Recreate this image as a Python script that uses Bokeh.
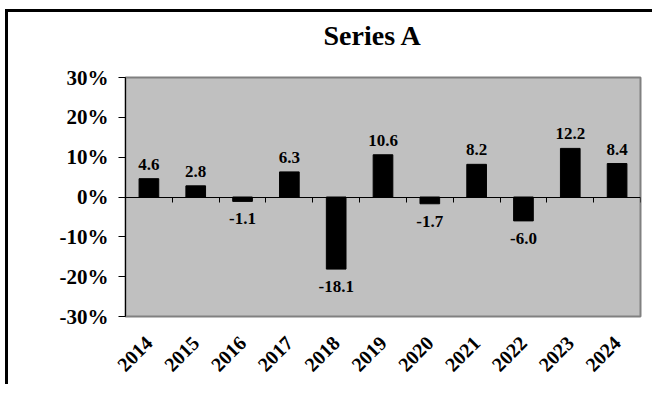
import math
from bokeh.plotting import figure
from bokeh.models import (Range1d, LinearAxis, FixedTicker, PrintfTickFormatter,
                          ColumnDataSource, LabelSet, Title)
from bokeh.embed import file_html
from bokeh.resources import INLINE

# ---- data ----
years = ["2014", "2015", "2016", "2017", "2018", "2019", "2020", "2021", "2022", "2023", "2024"]
values = [4.6, 2.8, -1.1, 6.3, -18.1, 10.6, -1.7, 8.2, -6.0, 12.2, 8.4]
y_ticks = [-30, -20, -10, 0, 10, 20, 30]
title_text = "Series A"

FONT = "Liberation Serif"
n = len(years)
xc = [i + 0.5 for i in range(n)]

# layout (canvas pixels)
W, H = 647, 375
FL, FR, FT, FB = 117, 632, 65, 304   # frame left/right/top/bottom
p = figure(width=W, height=H, x_range=Range1d(0, n), y_range=Range1d(-30, 30),
           output_backend="svg", toolbar_location=None,
           x_axis_type=None, y_axis_type=None,
           background_fill_color="#C0C0C0", border_fill_color="white",
           min_border_left=FL, min_border_right=W - FR, min_border_top=FT, min_border_bottom=H - FB)
p.margin = (12, 0, 0, 8)
# outer chart border on the left and top only (drawn as an offset shadow)
p.styles = {"box-shadow": "-3px -3px 0px 0px black"}
p.outline_line_color = "#808080"
p.outline_line_width = 2

# title (with an empty spacer between it and the plot area)
p.title = None
p.add_layout(Title(text=" ", text_font_size="9px", standoff=10), "above")
p.add_layout(Title(text=title_text, align="left", offset=198, text_font=FONT,
                   text_font_size="28px", text_font_style="bold", text_color="black"), "above")

# y axis
yax = LinearAxis(ticker=FixedTicker(ticks=y_ticks), formatter=PrintfTickFormatter(format="%d%%"))
yax.axis_line_color = "black"
yax.major_tick_line_color = "black"
yax.major_tick_out = 7
yax.major_tick_in = 0
yax.minor_tick_line_color = None
yax.major_label_standoff = 10
yax.major_label_text_font = FONT
yax.major_label_text_font_size = "21px"
yax.major_label_text_font_style = "bold"
yax.major_label_text_color = "black"
p.add_layout(yax, "left")

# category label axis (below)
xax = LinearAxis(ticker=FixedTicker(ticks=xc),
                 major_label_overrides={x: y for x, y in zip(xc, years)})
xax.axis_line_color = None
xax.major_tick_line_color = None
xax.major_tick_out = 0
xax.major_tick_in = 0
xax.minor_tick_line_color = None
xax.major_label_orientation = math.pi / 4
xax.major_label_standoff = 23
xax.major_label_text_font = FONT
xax.major_label_text_font_size = "20px"
xax.major_label_text_font_style = "bold"
xax.major_label_text_color = "black"
p.add_layout(xax, "below")

# zero axis with category-boundary ticks
zax = LinearAxis(ticker=FixedTicker(ticks=list(range(n + 1))), fixed_location=0)
zax.axis_line_color = "black"
zax.major_tick_line_color = "black"
zax.major_tick_out = 5
zax.major_tick_in = 0
zax.minor_tick_line_color = None
zax.major_label_text_font_size = "0px"
zax.major_label_text_alpha = 0
p.add_layout(zax, "below")

# bars
src = ColumnDataSource(dict(x=xc, top=values))
p.vbar(x="x", top="top", bottom=0, width=0.42, source=src,
       fill_color="black", line_color="black")

# data labels
pos = [(x, v, f"{v:.1f}") for x, v in zip(xc, values) if v >= 0]
neg = [(x, v, f"{v:.1f}") for x, v in zip(xc, values) if v < 0]
src_pos = ColumnDataSource(dict(x=[a[0] for a in pos], y=[a[1] for a in pos], t=[a[2] for a in pos]))
src_neg = ColumnDataSource(dict(x=[a[0] for a in neg], y=[a[1] for a in neg], t=[a[2] for a in neg]))
p.add_layout(LabelSet(x="x", y="y", text="t", source=src_pos, text_align="center",
                      text_baseline="alphabetic", y_offset=9, text_font=FONT,
                      text_font_size="17px", text_font_style="bold", text_color="black"))
p.add_layout(LabelSet(x="x", y="y", text="t", source=src_neg, text_align="center",
                      text_baseline="top", y_offset=-12, text_font=FONT,
                      text_font_size="17px", text_font_style="bold", text_color="black"))

open("out.html", "w").write(file_html(p, INLINE))
